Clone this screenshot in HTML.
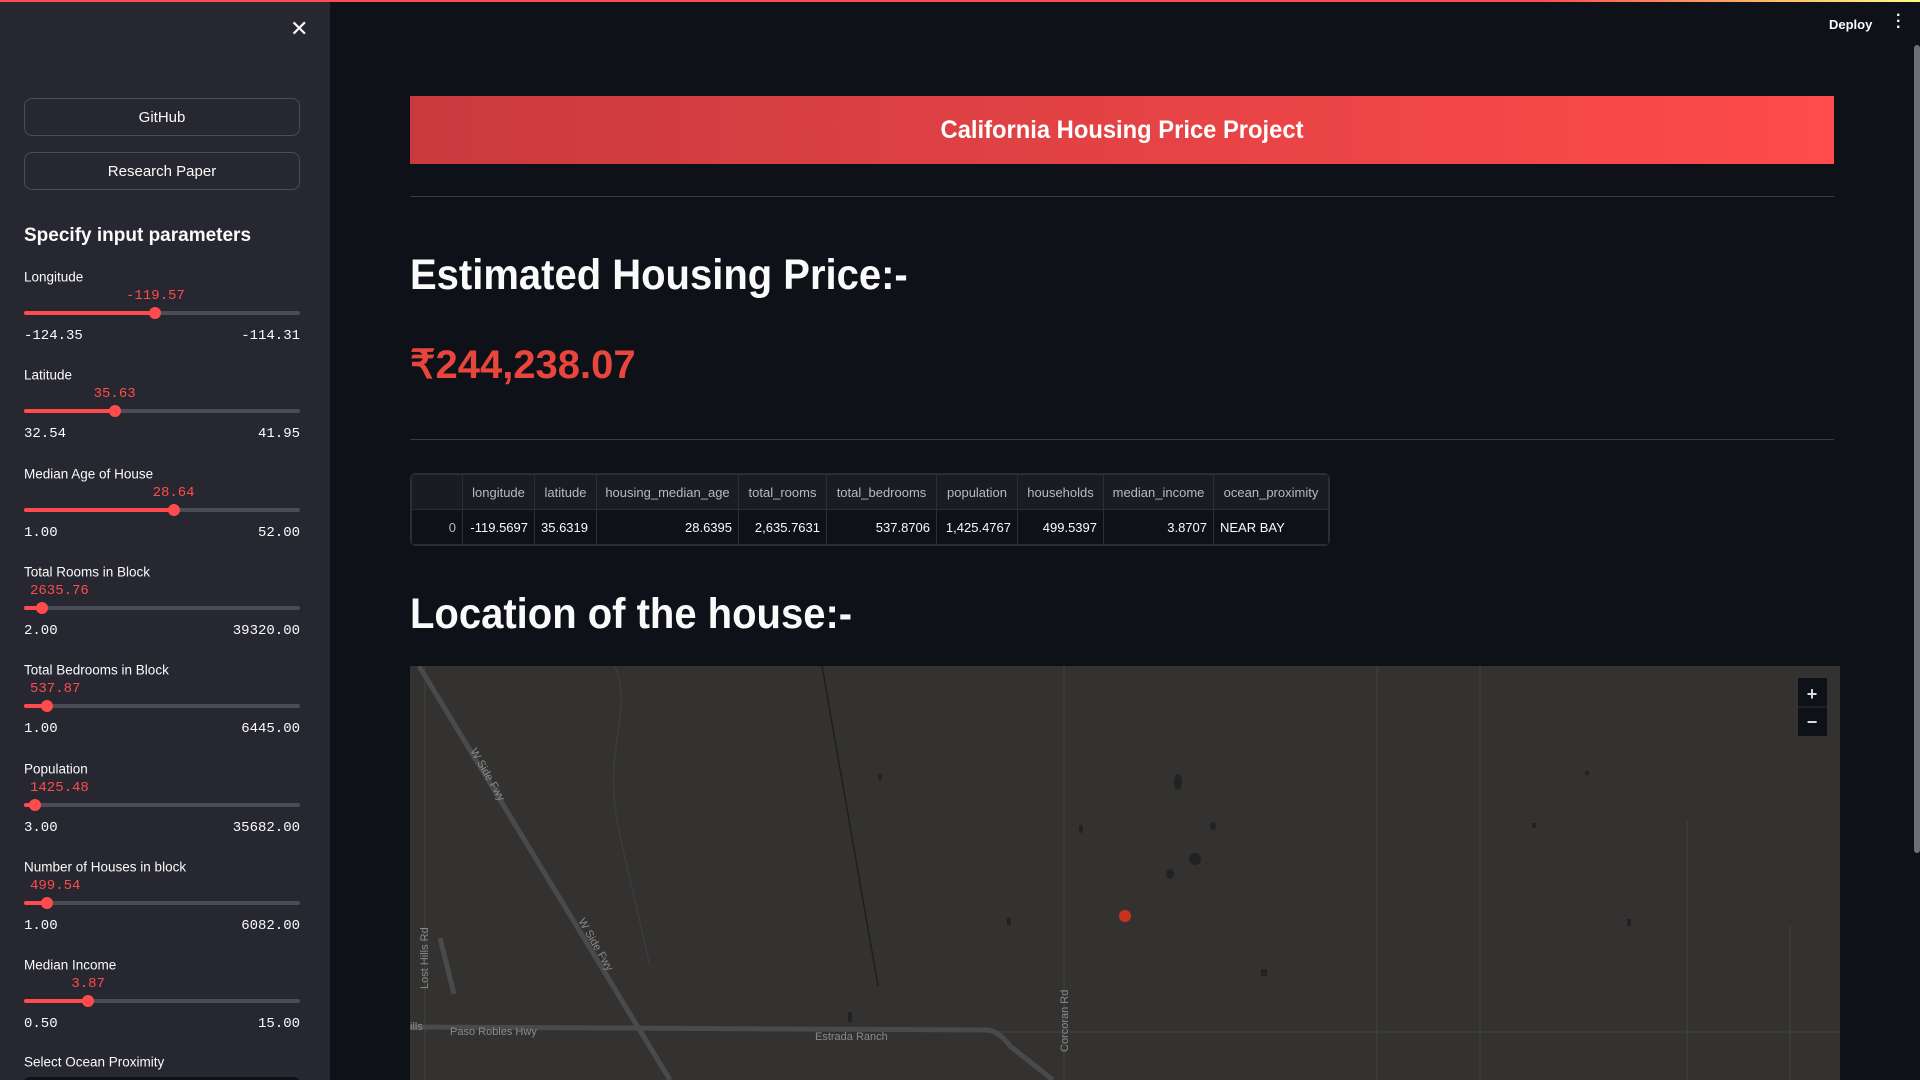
<!DOCTYPE html>
<html style="overflow:hidden;width:1920px;height:1080px"><head><meta charset="utf-8">
<style>
*{box-sizing:border-box;margin:0;padding:0}
body{width:1920px;height:1080px;overflow:hidden;background:#0e1117;font-family:"Liberation Sans",sans-serif;color:#fafafa;position:relative}
.topbar{position:absolute;left:0;top:0;width:1920px;height:2px;background:linear-gradient(90deg,#ff4b4b,#ff4b4b 80%,#fffd80)}
.sidebar{position:absolute;left:0;top:2px;width:330px;height:1078px;background:#262730;overflow:hidden}
.btn{position:absolute;left:24px;width:276px;height:38px;border:1px solid #4a4c56;border-radius:8px;background:#262730;color:#fafafa;font-size:15px;display:flex;align-items:center;justify-content:center}
.lbl{position:absolute;left:24px;font-size:13.5px;color:#fafafa;transform:translateY(-50%)}
.val{position:absolute;font-family:"Liberation Mono",monospace;font-size:14px;color:#ff4b4b;transform:translateY(-50%);white-space:nowrap}
.mm{position:absolute;font-family:"Liberation Mono",monospace;font-size:14px;color:#fafafa;transform:translateY(-50%)}
.track{position:absolute;left:24px;width:276px;height:4px;border-radius:2px;background:#4b4c55}
.fill{position:absolute;left:0;top:0;height:4px;border-radius:2px;background:#ff4b4b}
.thumb{position:absolute;top:-4px;width:12px;height:12px;border-radius:50%;background:#ff4b4b;margin-left:-6px}
table{border-collapse:collapse;font-size:13px;color:#fafafa}
td,th{border:1px solid #2c2e36;padding:0 6px;white-space:nowrap}
th{font-weight:normal;color:#b8bac2;height:35px;background:#1a1c24}
td{height:35px;text-align:right}
.h2{position:absolute;left:410px;font-size:43px;font-weight:bold;transform:scaleX(0.93);transform-origin:left;white-space:nowrap}
</style></head><body>
<div class="topbar"></div>
<div class="sidebar">
  <div style="position:absolute;left:290px;top:14px;font-size:22px;color:#fafafa">✕</div>
  <div class="btn" style="top:96px">GitHub</div>
  <div class="btn" style="top:150px">Research Paper</div>
  <div style="position:absolute;left:24px;top:223px;font-size:19px;font-weight:bold">Specify input parameters</div>
  <div id="sliders"></div>
  <div class="lbl" style="top:1060px">Select Ocean Proximity</div>
  <div style="position:absolute;left:24px;top:1075px;width:276px;height:20px;background:#0e1117;border-radius:6px"></div>
</div>

<div style="position:absolute;left:1829px;top:17px;font-size:13px;font-weight:bold">Deploy</div>
<div style="position:absolute;left:1896px;top:13px;font-size:16px;line-height:6px;font-weight:bold">·<br>·<br>·</div>
<div style="position:absolute;left:1914px;top:45px;width:6px;height:808px;background:#6e6f74;border-radius:3px"></div>

<div style="position:absolute;left:410px;top:96px;width:1424px;height:68px;background:linear-gradient(90deg,#c93a3f,#ff4b4b);display:flex;align-items:center;justify-content:center;font-size:25px;font-weight:bold;color:#fff"><span style="display:inline-block;transform:scaleX(0.95)">California Housing Price Project</span></div>
<div style="position:absolute;left:410px;top:196px;width:1424px;height:1px;background:#3a3c44"></div>
<div class="h2" style="top:251px">Estimated Housing Price:-</div>
<div style="position:absolute;left:410px;top:342px;font-size:40px;font-weight:bold;color:#e8453c;white-space:nowrap">₹244,238.07</div>
<div style="position:absolute;left:410px;top:439px;width:1424px;height:1px;background:#3a3c44"></div>

<div style="position:absolute;left:410px;top:473px;border:1px solid #2c2e36;border-radius:6px;overflow:hidden">
<table>
<tr><th style="width:51px"></th><th style="width:72px">longitude</th><th style="width:62px">latitude</th><th style="width:142px">housing_median_age</th><th style="width:88px">total_rooms</th><th style="width:110px">total_bedrooms</th><th style="width:81px">population</th><th style="width:86px">households</th><th style="width:110px">median_income</th><th style="width:115px">ocean_proximity</th></tr>
<tr><td style="color:#b8bac2">0</td><td>-119.5697</td><td style="text-align:left">35.6319</td><td>28.6395</td><td>2,635.7631</td><td>537.8706</td><td>1,425.4767</td><td>499.5397</td><td>3.8707</td><td style="text-align:left">NEAR BAY</td></tr>
</table></div>

<div class="h2" style="top:590px">Location of the house:-</div>

<svg style="position:absolute;left:410px;top:666px" width="1430" height="414">
<rect width="1430" height="414" fill="#333231"/>
<g stroke="#3c3c3c" stroke-width="1.5" fill="none">
<line x1="654" y1="0" x2="654" y2="414"/>
<line x1="967" y1="0" x2="967" y2="414"/>
<line x1="1070" y1="0" x2="1070" y2="414"/>
<line x1="15" y1="0" x2="15" y2="414"/>
<line x1="579" y1="366" x2="1430" y2="366"/>
<line x1="1277" y1="155" x2="1277" y2="414"/>
<line x1="1380" y1="260" x2="1380" y2="414"/>
<path d="M205 0 C225 50 190 80 210 170 L240 300"/>
</g>
<g stroke="#4a4a4a" stroke-width="5" fill="none">
<line x1="9" y1="0" x2="260" y2="414"/>
<path d="M0 361 L578 364 Q590 366 600 380 L643 414"/>
<line x1="30" y1="272" x2="44" y2="328"/>
</g>
<line x1="412" y1="0" x2="468" y2="320" stroke="#1f1f1f" stroke-width="1.5"/>
<g fill="#222">
<ellipse cx="768" cy="116" rx="4" ry="8"/><ellipse cx="470" cy="111" rx="2" ry="4"/><ellipse cx="785" cy="193" rx="6" ry="6"/>
<ellipse cx="760" cy="208" rx="4" ry="5"/><ellipse cx="671" cy="163" rx="2" ry="4"/><ellipse cx="803" cy="160" rx="3" ry="4"/>
<rect x="597" y="252" width="4" height="7"/><rect x="851" y="303" width="6" height="7"/><rect x="1217" y="253" width="4" height="7"/>
<rect x="438" y="346" width="4" height="10"/><rect x="1175" y="105" width="4" height="4"/><rect x="1122" y="157" width="4" height="5"/>
</g>
<circle cx="715" cy="250" r="6" fill="#c8321e"/>
<g fill="#8a8a8a" font-family="Liberation Sans,sans-serif" font-size="11">
<text x="40" y="369">Paso Robles Hwy</text>
<text x="405" y="374">Estrada Ranch</text>
<text x="0" y="364">ills</text>
<text transform="translate(60,85) rotate(60)">W Side Fwy</text>
<text transform="translate(168,255) rotate(60)">W Side Fwy</text>
<text transform="translate(18,323) rotate(-90)">Lost Hills Rd</text>
<text transform="translate(658,386) rotate(-90)">Corcoran Rd</text>
</g>
<g>
<rect x="1388" y="12" width="29" height="58" fill="#0e1117"/>
<line x1="1388" y1="41" x2="1417" y2="41" stroke="#333"/>
<text x="1402" y="34" fill="#ddd" font-size="18" font-weight="bold" text-anchor="middle" font-family="Liberation Sans,sans-serif">+</text>
<text x="1402" y="62" fill="#ddd" font-size="18" font-weight="bold" text-anchor="middle" font-family="Liberation Sans,sans-serif">−</text>
</g>
</svg>

<script>
const sliderLabels=["Longitude","Latitude","Median Age of House","Total Rooms in Block","Total Bedrooms in Block","Population","Number of Houses in block","Median Income"];
const sliderMin=[-124.35,32.54,1.00,2.00,1.00,3.00,1.00,0.50];
const sliderMax=[-114.31,41.95,52.00,39320.00,6445.00,35682.00,6082.00,15.00];
const sliderVal=[-119.57,35.63,28.64,2635.76,537.87,1425.48,499.54,3.87];
const host=document.getElementById('sliders');
sliderLabels.forEach((lab,i)=>{
  const L=275+i*98.3;
  const frac=(sliderVal[i]-sliderMin[i])/(sliderMax[i]-sliderMin[i]);
  const tx=frac*276;
  const l=document.createElement('div');l.className='lbl';l.style.top=L+'px';l.textContent=lab;
  
  
  host.appendChild(l);
  const txt=sliderVal[i].toFixed(2);
  const w=txt.length*8.4;
  const left=Math.max(24+tx-w/2,30);
  const v=document.createElement('div');v.className='val';v.style.top=(L+19)+'px';v.style.left=left+'px';v.textContent=txt;
  
  
  host.appendChild(v);
  const t=document.createElement('div');t.className='track';t.style.top=(L+34)+'px';
  
  
  const f=document.createElement('div');f.className='fill';f.style.width=tx+'px';
  
  
  const th=document.createElement('div');th.className='thumb';th.style.left=tx+'px';
  
  
  t.appendChild(f);t.appendChild(th);host.appendChild(t);
  const a=document.createElement('div');a.className='mm';a.style.top=(L+59)+'px';a.style.left='24px';a.textContent=sliderMin[i].toFixed(2);
  
  
  host.appendChild(a);
  const b=document.createElement('div');b.className='mm';b.style.top=(L+59)+'px';b.style.right='30px';b.textContent=sliderMax[i].toFixed(2);
  
  
  host.appendChild(b);
});
</script>
</body></html>
